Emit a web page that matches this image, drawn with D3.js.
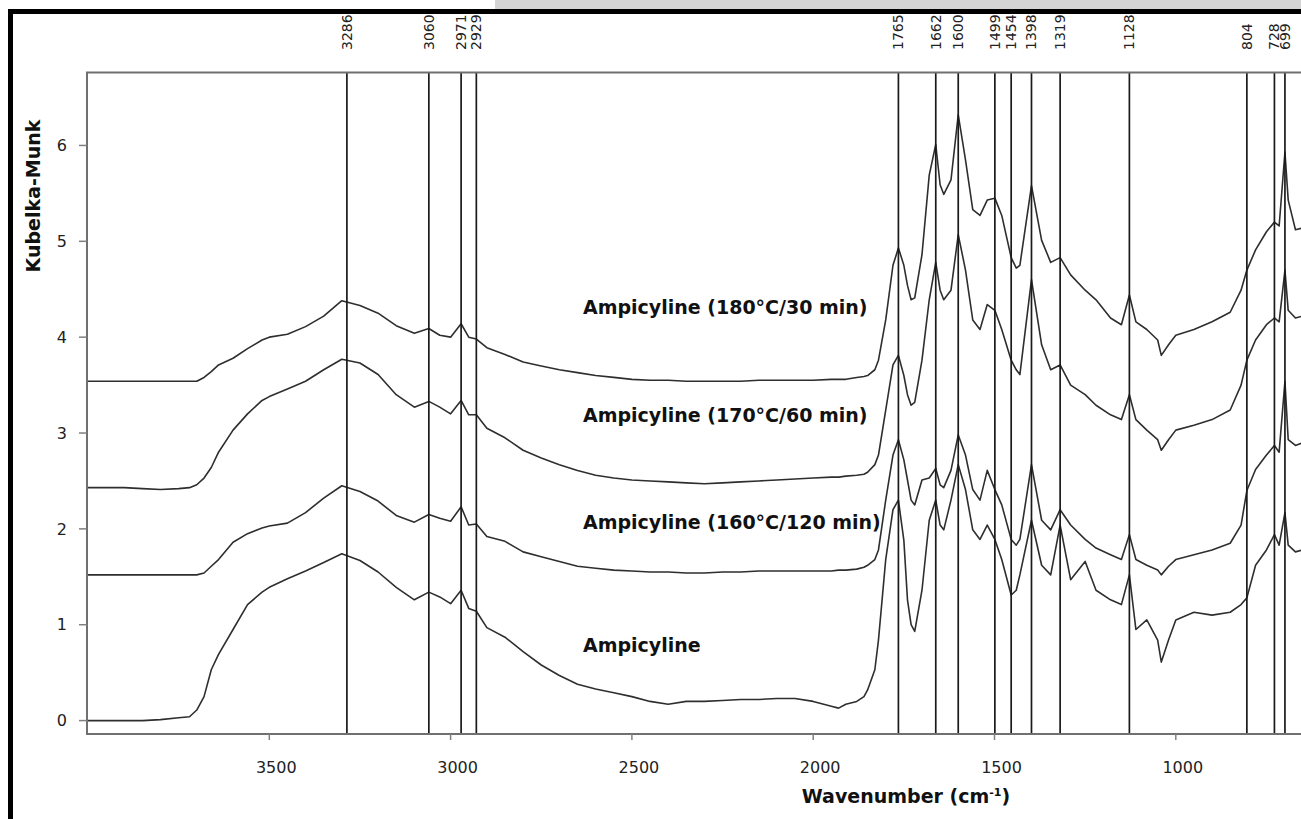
<!DOCTYPE html>
<html>
<head>
<meta charset="utf-8">
<script src="https://cdn.jsdelivr.net/npm/d3@7"></script>
<style>
  html, body { margin: 0; padding: 0; background: #fff; }
  svg { display: block; }
</style>
</head>
<body>
<div id="chart"></div>
<script>
// wavenumber grid (cm-1) shared by all four spectra
const waveNumbers = [
  4000, 3900, 3850, 3800, 3750, 3720, 3700, 3680, 3660, 3640,
  3600, 3560, 3520, 3500, 3450, 3400, 3350, 3300, 3250, 3200,
  3150, 3100, 3060, 3030, 3000, 2971, 2950, 2929, 2900, 2850,
  2800, 2750, 2700, 2650, 2600, 2550, 2500, 2450, 2400, 2350,
  2300, 2250, 2200, 2150, 2100, 2050, 2000, 1950, 1930, 1910,
  1880, 1860, 1850, 1830, 1820, 1800, 1780, 1765, 1750, 1740,
  1730, 1720, 1700, 1680, 1662, 1650, 1640, 1620, 1600, 1580,
  1560, 1540, 1520, 1499, 1480, 1454, 1440, 1430, 1398, 1370,
  1345, 1319, 1290, 1250, 1220, 1180, 1150, 1128, 1110, 1080,
  1050, 1040, 1020, 1000, 950, 900, 850, 820, 804, 780,
  750, 728, 715, 699, 690, 670, 650
];

const ampicyline = [
  0.00, 0.00, 0.00, 0.01, 0.03, 0.04, 0.11, 0.25, 0.53, 0.69,
  0.95, 1.21, 1.34, 1.39, 1.48, 1.56, 1.65, 1.74, 1.67, 1.55,
  1.39, 1.26, 1.34, 1.29, 1.22, 1.36, 1.17, 1.14, 0.97, 0.87,
  0.72, 0.58, 0.47, 0.38, 0.33, 0.29, 0.25, 0.20, 0.17, 0.20,
  0.20, 0.21, 0.22, 0.22, 0.23, 0.23, 0.20, 0.15, 0.13, 0.17,
  0.20, 0.25, 0.32, 0.53, 0.84, 1.68, 2.20, 2.30, 1.88, 1.26,
  1.00, 0.93, 1.36, 2.09, 2.30, 2.04, 1.99, 2.30, 2.67, 2.41,
  1.99, 1.89, 2.04, 1.89, 1.68, 1.31, 1.36, 1.52, 2.09, 1.62,
  1.52, 2.04, 1.47, 1.66, 1.36, 1.26, 1.21, 1.52, 0.95, 1.05,
  0.84, 0.61, 0.84, 1.05, 1.13, 1.10, 1.13, 1.21, 1.28, 1.62,
  1.78, 1.94, 1.83, 2.17, 1.83, 1.76, 1.78
];

const amp160 = [
  1.52, 1.52, 1.52, 1.52, 1.52, 1.52, 1.52, 1.54, 1.61, 1.68,
  1.86, 1.95, 2.01, 2.03, 2.06, 2.17, 2.32, 2.45, 2.39, 2.29,
  2.14, 2.07, 2.15, 2.11, 2.08, 2.23, 2.04, 2.05, 1.92, 1.87,
  1.76, 1.71, 1.66, 1.61, 1.59, 1.57, 1.56, 1.55, 1.55, 1.54,
  1.54, 1.55, 1.55, 1.56, 1.56, 1.56, 1.56, 1.56, 1.57, 1.57,
  1.58, 1.60, 1.62, 1.68, 1.78, 2.30, 2.77, 2.93, 2.72, 2.51,
  2.30, 2.25, 2.51, 2.53, 2.63, 2.46, 2.43, 2.61, 2.98, 2.77,
  2.41, 2.30, 2.61, 2.41, 2.25, 1.89, 1.83, 1.89, 2.67, 2.09,
  1.99, 2.20, 2.04, 1.89, 1.80, 1.73, 1.68, 1.94, 1.68, 1.62,
  1.57, 1.52, 1.61, 1.68, 1.73, 1.78, 1.85, 2.04, 2.40, 2.62,
  2.77, 2.87, 2.80, 3.54, 2.93, 2.87, 2.90
];

const amp170 = [
  2.43, 2.43, 2.42, 2.41, 2.42, 2.43, 2.46, 2.53, 2.64, 2.80,
  3.03, 3.20, 3.34, 3.38, 3.46, 3.54, 3.66, 3.77, 3.73, 3.61,
  3.40, 3.27, 3.33, 3.27, 3.20, 3.34, 3.19, 3.19, 3.05, 2.95,
  2.82, 2.74, 2.67, 2.61, 2.56, 2.53, 2.51, 2.50, 2.49, 2.48,
  2.47, 2.48, 2.49, 2.50, 2.51, 2.52, 2.53, 2.54, 2.54, 2.55,
  2.56, 2.57, 2.59, 2.67, 2.77, 3.24, 3.71, 3.81, 3.60, 3.40,
  3.29, 3.32, 3.76, 4.39, 4.78, 4.49, 4.39, 4.49, 5.07, 4.70,
  4.18, 4.08, 4.34, 4.28, 4.08, 3.76, 3.66, 3.61, 4.60, 3.92,
  3.66, 3.71, 3.50, 3.40, 3.29, 3.19, 3.14, 3.40, 3.14, 3.03,
  2.93, 2.82, 2.93, 3.03, 3.08, 3.14, 3.24, 3.50, 3.76, 3.97,
  4.13, 4.20, 4.16, 4.70, 4.28, 4.20, 4.22
];

const amp180 = [
  3.54, 3.54, 3.54, 3.54, 3.54, 3.54, 3.54, 3.58, 3.64, 3.71,
  3.78, 3.88, 3.97, 4.00, 4.03, 4.11, 4.22, 4.38, 4.33, 4.25,
  4.12, 4.04, 4.09, 4.02, 4.00, 4.14, 4.00, 3.98, 3.89, 3.82,
  3.74, 3.70, 3.66, 3.63, 3.60, 3.58, 3.56, 3.55, 3.55, 3.54,
  3.54, 3.54, 3.54, 3.55, 3.55, 3.55, 3.55, 3.56, 3.56, 3.56,
  3.58, 3.59, 3.60, 3.66, 3.76, 4.18, 4.75, 4.93, 4.75, 4.54,
  4.39, 4.41, 4.86, 5.69, 6.01, 5.59, 5.49, 5.64, 6.32, 5.85,
  5.33, 5.27, 5.43, 5.45, 5.27, 4.83, 4.72, 4.75, 5.58, 5.01,
  4.78, 4.83, 4.65, 4.49, 4.39, 4.20, 4.13, 4.44, 4.16, 4.08,
  3.97, 3.81, 3.92, 4.02, 4.08, 4.16, 4.26, 4.49, 4.70, 4.91,
  5.10, 5.20, 5.16, 5.93, 5.43, 5.12, 5.14
];

const seriesNames = ["Ampicyline", "Ampicyline (160°C/120 min)", "Ampicyline (170°C/60 min)", "Ampicyline (180°C/30 min)"];
// where each series name is written (wavenumber, Kubelka-Munk)
const labelWave = [2635, 2635, 2635, 2635];
const labelValue = [0.72, 2.00, 3.11, 4.24];

const bandPositions = [3286, 3060, 2971, 2929, 1765, 1662, 1600, 1499, 1454, 1398, 1319, 1128, 804, 728, 699];
const xTicks = [3500, 3000, 2500, 2000, 1500, 1000];
const yTicks = [0, 1, 2, 3, 4, 5, 6];

const width = 1301;
const height = 819;

const svg = d3.select("#chart")
    .append("svg")
    .attr("width", width)
    .attr("height", height)
    .style("font-family", "'DejaVu Sans', sans-serif");

svg.append("rect")
    .attr("width", width)
    .attr("height", height)
    .attr("fill", "#fff");

// plot box
const plot = { left: 87, top: 72.6, bottom: 734, right: 1310 };

const x = d3.scaleLinear()
    .domain([4000, 400])
    .range([88, 88 + 3600 * 0.3626]);

const y = d3.scaleLinear()
    .domain([-0.14, 6.76])
    .range([plot.bottom, plot.top]);

svg.append("clipPath")
    .attr("id", "plotClip")
    .append("rect")
    .attr("x", plot.left)
    .attr("y", plot.top)
    .attr("width", plot.right - plot.left)
    .attr("height", plot.bottom - plot.top);

const inner = svg.append("g").attr("clip-path", "url(#plotClip)");

// spectra
const line = d3.line()
    .x(d => x(d[0]))
    .y(d => y(d[1]));

[ampicyline, amp160, amp170, amp180].forEach(vals => {
    inner.append("path")
        .datum(d3.zip(waveNumbers, vals))
        .attr("fill", "none")
        .attr("stroke", "#2e2e2e")
        .attr("stroke-width", 1.6)
        .attr("stroke-linejoin", "round")
        .attr("d", line);
});

// band marker lines
inner.selectAll(".band")
    .data(bandPositions)
    .enter()
    .append("line")
    .attr("class", "band")
    .attr("x1", d => x(d))
    .attr("x2", d => x(d))
    .attr("y1", plot.top)
    .attr("y2", plot.bottom)
    .attr("stroke", "#1a1a1a")
    .attr("stroke-width", 1.7);

// frame
svg.append("path")
    .attr("d", `M${plot.right},${plot.top}H${plot.left}V${plot.bottom}H${plot.right}`)
    .attr("fill", "none")
    .attr("stroke", "#707070")
    .attr("stroke-width", 2);

// y axis ticks + labels
const yAxis = svg.append("g");
yAxis.selectAll("line")
    .data(yTicks)
    .enter()
    .append("line")
    .attr("x1", plot.left - 8)
    .attr("x2", plot.left)
    .attr("y1", d => y(d))
    .attr("y2", d => y(d))
    .attr("stroke", "#808080")
    .attr("stroke-width", 1.5);
yAxis.selectAll("text")
    .data(yTicks)
    .enter()
    .append("text")
    .attr("x", 67)
    .attr("y", d => y(d))
    .attr("dy", "0.36em")
    .attr("text-anchor", "end")
    .attr("font-size", 16)
    .attr("fill", "#222")
    .text(d => d);

// x axis ticks + labels
const xAxis = svg.append("g");
xAxis.selectAll("line")
    .data(xTicks)
    .enter()
    .append("line")
    .attr("x1", d => x(d))
    .attr("x2", d => x(d))
    .attr("y1", plot.bottom)
    .attr("y2", plot.bottom + 6)
    .attr("stroke", "#808080")
    .attr("stroke-width", 1.5);
xAxis.selectAll("text")
    .data(xTicks)
    .enter()
    .append("text")
    .attr("x", d => x(d) + 7)
    .attr("y", 773)
    .attr("text-anchor", "middle")
    .attr("font-size", 16)
    .attr("fill", "#222")
    .text(d => d);

// axis titles
svg.append("text")
    .attr("transform", "translate(40,196) rotate(-90)")
    .attr("text-anchor", "middle")
    .attr("font-size", 19)
    .attr("font-weight", "bold")
    .attr("fill", "#111")
    .text("Kubelka-Munk");

const xTitle = svg.append("text")
    .attr("x", 906)
    .attr("y", 803)
    .attr("text-anchor", "middle")
    .attr("font-size", 19)
    .attr("font-weight", "bold")
    .attr("fill", "#111");
xTitle.append("tspan").text("Wavenumber (cm");
xTitle.append("tspan").attr("font-size", 11).attr("dy", -7).text("-1");
xTitle.append("tspan").attr("dy", 7).text(")");

// series names
svg.selectAll(".seriesLabel")
    .data(seriesNames)
    .enter()
    .append("text")
    .attr("class", "seriesLabel")
    .attr("x", (d, i) => x(labelWave[i]))
    .attr("y", (d, i) => y(labelValue[i]))
    .attr("font-size", 19)
    .attr("font-weight", "bold")
    .attr("fill", "#111")
    .text(d => d);

// band labels, rotated above the plot
svg.selectAll(".bandLabel")
    .data(bandPositions)
    .enter()
    .append("text")
    .attr("class", "bandLabel")
    .attr("transform", d => `translate(${x(d)},50) rotate(-90)`)
    .attr("dy", "0.35em")
    .attr("font-size", 14)
    .attr("fill", "#222")
    .text(d => d);

// cropped page edges: grey strip and thick black border
svg.append("rect")
    .attr("x", 495)
    .attr("y", 0)
    .attr("width", width - 495)
    .attr("height", 9)
    .attr("fill", "#d4d4d4");
svg.append("rect")
    .attr("x", 8)
    .attr("y", 9)
    .attr("width", width - 8)
    .attr("height", 5)
    .attr("fill", "#000");
svg.append("rect")
    .attr("x", 8)
    .attr("y", 9)
    .attr("width", 5)
    .attr("height", height - 9)
    .attr("fill", "#000");
</script>
</body>
</html>
